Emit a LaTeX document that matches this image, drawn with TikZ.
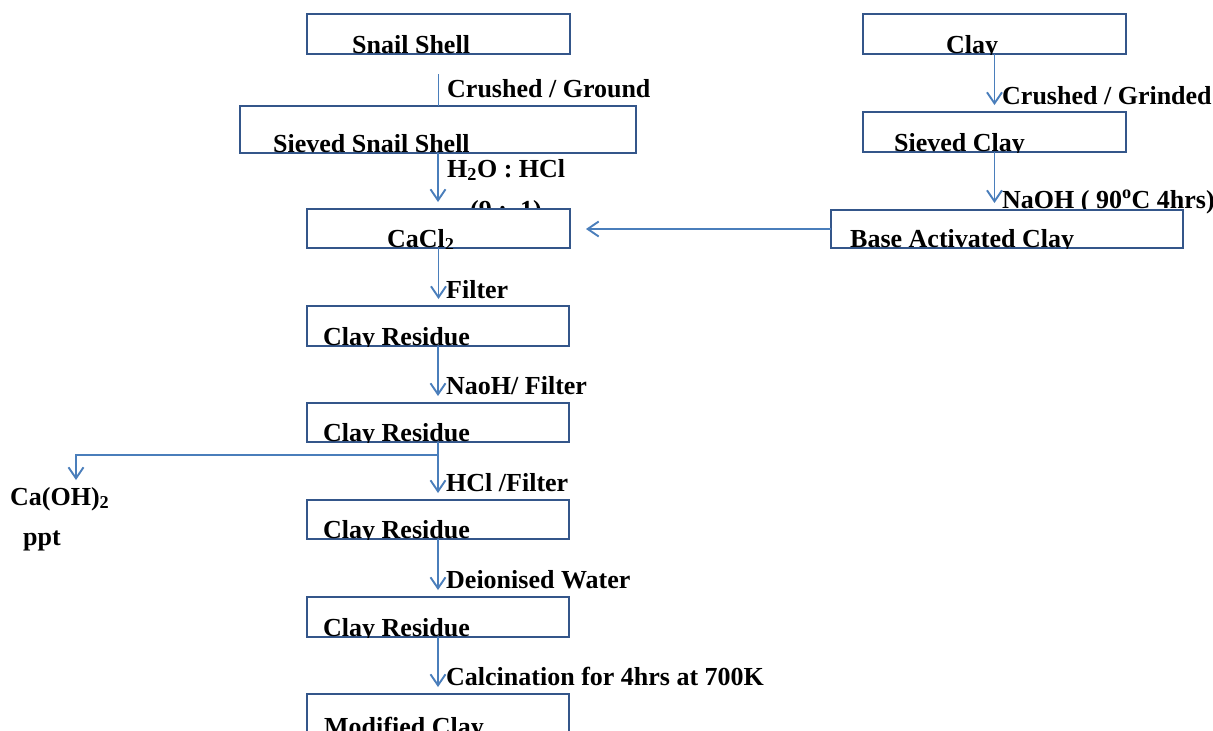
\documentclass[tikz,border=0pt]{standalone}
\usepackage{fontspec}
\setmainfont{Liberation Serif}
\usetikzlibrary{arrows.meta,calc}
\definecolor{boxc}{HTML}{34568A}
\definecolor{arrc}{HTML}{4A7EBB}
\newcommand\clippedlabel[3]{%
  \begin{scope}
    \clip (#1.south west) rectangle (#1.north east);
    \node[lbl] (#1-text) at ($(#1.south west)+(#2,-1)$) {#3};
  \end{scope}}
\tikzset{
  stepbox/.style={draw=boxc, fill=white, line width=2.2pt, anchor=north west, inner sep=0pt, outer sep=0pt},
  lbl/.style={font=\fontsize{26}{30}\selectfont\bfseries, inner sep=0pt, anchor=base west, text=black},
  conn/.style={draw=arrc, line width=1.9pt},
  arr/.style={conn, -{Straight Barb[length=11pt,width=15pt]}, shorten >=7pt},
}
\begin{document}
\begin{tikzpicture}[x=1pt,y=-1pt]
\useasboundingbox (0,0) rectangle (1213,731);
\fill[white] (0,0) rectangle (1213,731);

% step labels (drawn first: boxes cover their lower parts)
\node[lbl] (l1) at (447,97) {Crushed / Ground};
\node[lbl] (l2) at (447,177) {H\textsubscript{2}O : HCl};
\node[lbl] (l3) at (470,218) {(9 :\ \ 1)};
\node[lbl] (l4) at (1002,104) {Crushed / Grinded};
\node[lbl] (l5) at (1002,208) {NaOH ( 90\textsuperscript{o}C 4hrs)};
\node[lbl] (l6) at (446,298) {Filter};
\node[lbl] (l7) at (446,394) {NaoH/ Filter};
\node[lbl] (l8) at (446,491) {HCl /Filter};
\node[lbl] (l9) at (446,588) {Deionised Water};
\node[lbl] (l10) at (446,685) {Calcination for 4hrs at 700K};
\node[lbl] (caoh) at (10,505) {Ca(OH)\textsubscript{2}};
\node[lbl] (ppt) at (23,545) {ppt};

% boxes
\node[stepbox, minimum width=263pt, minimum height=40pt] (ss) at (307,14) {};
\node[stepbox, minimum width=396pt, minimum height=47pt] (sss) at (240,106) {};
\node[stepbox, minimum width=263pt, minimum height=39pt] (cacl) at (307,209) {};
\node[stepbox, minimum width=263pt, minimum height=40pt] (clay) at (863,14) {};
\node[stepbox, minimum width=263pt, minimum height=40pt] (sc) at (863,112) {};
\node[stepbox, minimum width=352pt, minimum height=38pt] (bac) at (831,210) {};
\node[stepbox, minimum width=262pt, minimum height=40pt] (cr1) at (307,306) {};
\node[stepbox, minimum width=262pt, minimum height=39pt] (cr2) at (307,403) {};
\node[stepbox, minimum width=262pt, minimum height=39pt] (cr3) at (307,500) {};
\node[stepbox, minimum width=262pt, minimum height=40pt] (cr4) at (307,597) {};
\node[stepbox, minimum width=262pt, minimum height=42pt] (mod) at (307,694) {};

% box texts (clipped at the box edge)
\clippedlabel{ss}{45}{Snail Shell}
\clippedlabel{sss}{33}{Sieved Snail Shell}
\clippedlabel{cacl}{80}{CaCl\textsubscript{2}}
\clippedlabel{clay}{83}{Clay}
\clippedlabel{sc}{31}{Sieved Clay}
\clippedlabel{bac}{19}{Base Activated Clay}
\clippedlabel{cr1}{16}{Clay Residue}
\clippedlabel{cr2}{16}{Clay Residue}
\clippedlabel{cr3}{16}{Clay Residue}
\clippedlabel{cr4}{16}{Clay Residue}
\clippedlabel{mod}{17}{Modified Clay}

% connectors
\draw[conn, shorten <=20pt] (ss.south) -- (ss.south |- sss.north);
\draw[arr] (sss.south) -- (sss.south |- cacl.north);
\draw[arr] (cacl.south) -- (cacl.south |- cr1.north);
\draw[arr] (cr1.south) -- (cr1.south |- cr2.north);
\draw[arr] (cr2.south) -- (cr2.south |- cr3.north);
\draw[arr] (cr3.south) -- (cr3.south |- cr4.north);
\draw[arr] (cr4.south) -- (cr4.south |- mod.north);
\draw[arr] (clay.south) -- (clay.south |- sc.north);
\draw[arr] (sc.south) -- (sc.south |- bac.north);
\draw[arr, shorten >=16pt] (bac.west) -- (bac.west -| cacl.east);
\coordinate (br) at ($(cr2.south)+(0,13)$);
\coordinate (brtip) at (76,480);
\draw[arr, shorten >=0pt] (br) -| (brtip);
\end{tikzpicture}
\end{document}
